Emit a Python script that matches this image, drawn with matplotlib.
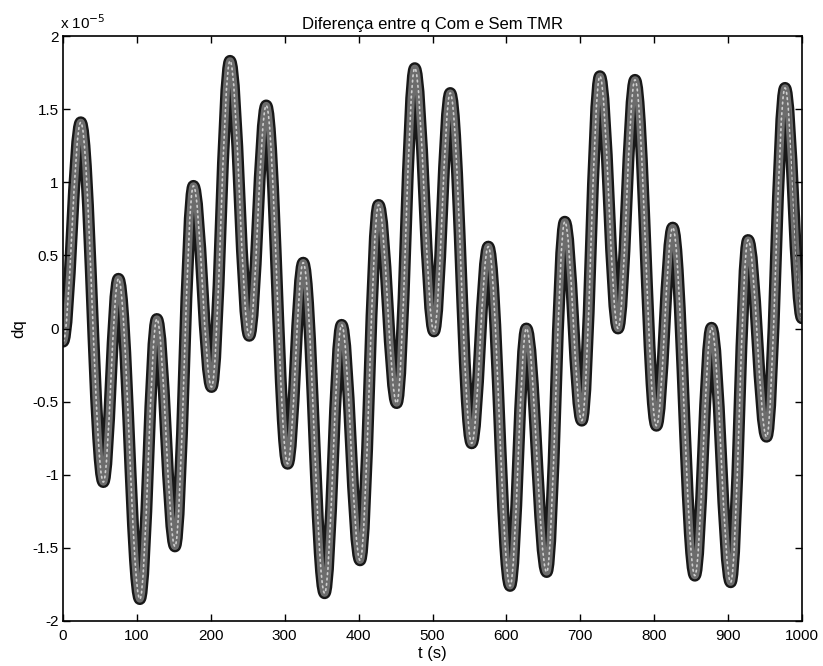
import matplotlib
matplotlib.use("Agg")
import matplotlib.pyplot as plt
from matplotlib.path import Path
from matplotlib.patches import PathPatch

# Turning points of dq (units of 1e-5) and their times (s)
t_turn = [0, 24, 54.6, 75, 104, 127, 151.5, 176.5, 201, 226, 252, 275, 304, 325,
          354, 377, 402, 427, 451.5, 476, 502, 524, 553, 575.5, 605, 627, 654.5,
          679, 702, 726.5, 751, 774, 803, 825, 855, 877.5, 903.5, 927, 952, 977, 1000]
dq_turn = [-0.09, 1.41, -1.05, 0.34, -1.85, 0.065, -1.49, 0.975, -0.40, 1.83,
           -0.05, 1.525, -0.925, 0.45, -1.81, 0.025, -1.585, 0.845, -0.51, 1.78,
           -0.02, 1.61, -0.785, 0.56, -1.76, 0.0, -1.665, 0.73, -0.63, 1.725,
           0.0, 1.70, -0.665, 0.69, -1.69, 0.005, -1.735, 0.605, -0.74, 1.645, 0.07]

# Thin trace at the end of the record
tail_t = [984, 990, 996, 1000]
tail_dq = [1.50, 0.80, 0.10, 0.07]

x_ticks = list(range(0, 1001, 100))
y_ticks = [-2, -1.5, -1, -0.5, 0, 0.5, 1, 1.5, 2]
y_tick_labels = ["-2", "-1.5", "-1", "-0.5", "0", "0.5", "1", "1.5", "2"]

plt.rcParams["font.family"] = ["Liberation Sans", "DejaVu Sans"]
plt.rcParams["font.size"] = 11

fig = plt.figure(figsize=(8.23, 6.66), dpi=100)
ax = fig.add_axes([63 / 823, 45 / 666, (802 - 63) / 823, (621 - 36) / 666])

# Smooth trace between turning points: cubic Bezier segments with flat
# tangents at every extremum (close to a half sine wave per segment)
k = 0.364
verts = [(t_turn[0], dq_turn[0])]
codes = [Path.MOVETO]
for i in range(len(t_turn) - 1):
    t0, v0 = t_turn[i], dq_turn[i]
    t1, v1 = t_turn[i + 1], dq_turn[i + 1]
    dt = t1 - t0
    verts += [(t0 + k * dt, v0), (t1 - k * dt, v1), (t1, v1)]
    codes += [Path.CURVE4] * 3
trace = Path(verts, codes)

# Thick marker band: dark rim, grey body, light speckle
for lw, col, ls in [(8.6, "#181818", "-"), (5.2, "#6c6c6c", "-"),
                    (1.2, "#cfcfcf", (0, (1, 2.2)))]:
    ax.add_patch(PathPatch(trace, fill=False, lw=lw, edgecolor=col,
                           linestyle=ls, capstyle="round", joinstyle="round"))

ax.plot(tail_t, tail_dq, color="#555555", lw=0.8)

ax.set_xlim(0, 1000)
ax.set_ylim(-2, 2)
ax.set_xticks(x_ticks)
ax.set_yticks(y_ticks)
ax.set_yticklabels(y_tick_labels)
ax.tick_params(direction="in", top=True, right=True, length=5, width=1.0,
               labelsize=11, colors="black")
ax.tick_params(axis="x", pad=6)
ax.tick_params(axis="y", pad=3)
for sp in ax.spines.values():
    sp.set_linewidth(1.2)

ax.set_title("Diferença entre q Com e Sem TMR", fontsize=12, pad=5)
ax.set_xlabel("t (s)", fontsize=12, labelpad=2)
ax.set_ylabel("dq", fontsize=12, labelpad=5)
ax.annotate(r"x 10$^{-5}$", xy=(0, 1), xycoords="axes fraction",
            xytext=(-2, 5), textcoords="offset points", va="baseline",
            ha="left", fontsize=11)

fig.savefig("out.png", dpi=100)
